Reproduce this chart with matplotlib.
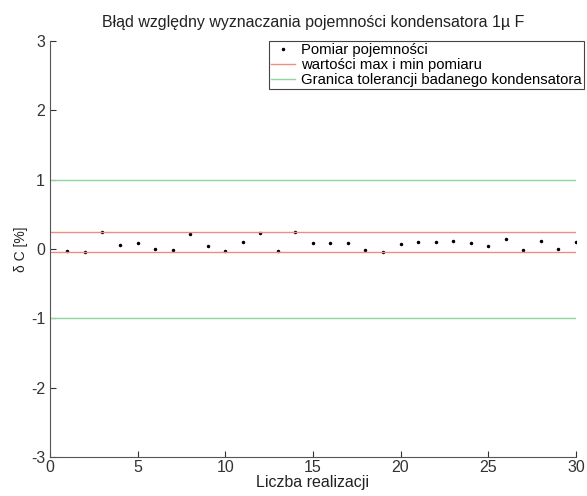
import numpy as np
import matplotlib.pyplot as plt

plt.rcParams['font.family'] = ['Liberation Sans', 'DejaVu Sans']
plt.rcParams['axes.unicode_minus'] = False

# numer pomiaru i blad wzgledny [%]
n = np.arange(1, 31)
dC = [-0.03, -0.04, 0.24, 0.06, 0.08, 0.005, -0.02, 0.21, 0.04, -0.03,
      0.10, 0.23, -0.03, 0.24, 0.09, 0.09, 0.09, -0.015, -0.05, 0.07,
      0.10, 0.10, 0.115, 0.09, 0.04, 0.15, -0.02, 0.115, 0.005, 0.10]
tol = 1.0

fig = plt.figure(figsize=(5.87, 4.96), dpi=100)
ax = fig.add_axes([0.085, 0.079, 0.896, 0.838])

ax.plot(n, dC, '.', color='black', markersize=3, label='Pomiar pojemności')
ax.plot([0, 30], [max(dC), max(dC)], color='#e8907f', lw=1,
        label='wartości max i min pomiaru')
ax.plot([0, 30], [min(dC), min(dC)], color='#e8907f', lw=1)
ax.plot([0, 30], [tol, tol], color='#8fd6a0', lw=1,
        label='Granica tolerancji badanego kondensatora')
ax.plot([0, 30], [-tol, -tol], color='#8fd6a0', lw=1)

ax.set_xlim(0, 30)
ax.set_ylim(-3, 3)
ax.set_xticks([0, 5, 10, 15, 20, 25, 30])
ax.set_yticks([-3, -2, -1, 0, 1, 2, 3])
ax.tick_params(direction='in', length=4, labelsize=11.5, colors='#333333')
ax.tick_params(axis='x', pad=2)
for s in ['top', 'right']:
    ax.spines[s].set_visible(False)
for s in ['left', 'bottom']:
    ax.spines[s].set_color('#555555')

ax.set_title('Błąd względny wyznaczania pojemności kondensatora 1µ F',
             fontsize=11.5, color='#222222', pad=10)
ax.set_xlabel('Liczba realizacji', fontsize=11.5, color='#222222', labelpad=0)
ax.set_ylabel('δ C [%]', fontsize=10, color='#222222', labelpad=2)

leg = ax.legend(loc='upper right', bbox_to_anchor=(1.015, 1.0), fontsize=10.7,
                handlelength=1.6, borderpad=0.15, labelspacing=0.05,
                handletextpad=0.4, fancybox=False, framealpha=1,
                borderaxespad=0.0)
leg.get_frame().set_edgecolor('#444444')
leg.get_frame().set_linewidth(0.8)

fig.savefig('out.png', dpi=100)
